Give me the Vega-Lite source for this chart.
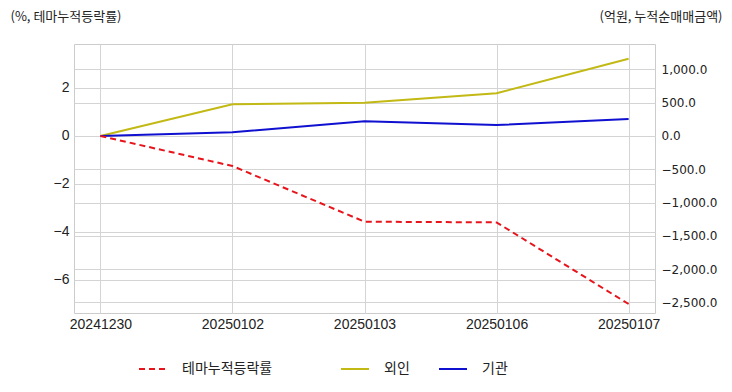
{
  "$schema": "https://vega.github.io/schema/vega-lite/v6.json",
  "width": 581,
  "height": 269,
  "autosize": {"type": "none"},
  "padding": {"left": 74, "top": 44, "right": 77, "bottom": 79},
  "background": "white",
  "config": {
    "view": {"stroke": "#cccccc", "strokeWidth": 1},
    "axis": {"gridColor": "#d4d4d4", "gridWidth": 1, "domain": false, "ticks": false, "labelColor": "#222222", "labelFontSize": 13, "labelFont": "Liberation Sans"},
    "legend": {"orient": "none", "direction": "horizontal", "symbolType": "stroke", "symbolSize": 784, "symbolStrokeWidth": 2, "labelFontSize": 14, "labelFont": "Noto Sans CJK KR", "labelColor": "#222222", "labelOffset": 14, "columnPadding": 25, "padding": 0, "title": null}
  },
  "data": {
    "values": [
      {"date": "20241230", "series": "테마누적등락률", "value": 0},
      {"date": "20250102", "series": "테마누적등락률", "value": -1.25},
      {"date": "20250103", "series": "테마누적등락률", "value": -3.57},
      {"date": "20250106", "series": "테마누적등락률", "value": -3.6},
      {"date": "20250107", "series": "테마누적등락률", "value": -7.0},
      {"date": "20241230", "series": "외인", "value": 0},
      {"date": "20250102", "series": "외인", "value": 476},
      {"date": "20250103", "series": "외인", "value": 500},
      {"date": "20250106", "series": "외인", "value": 641},
      {"date": "20250107", "series": "외인", "value": 1161},
      {"date": "20241230", "series": "기관", "value": 0},
      {"date": "20250102", "series": "기관", "value": 56},
      {"date": "20250103", "series": "기관", "value": 221},
      {"date": "20250106", "series": "기관", "value": 165},
      {"date": "20250107", "series": "기관", "value": 255}
    ]
  },
  "encoding": {
    "x": {"field": "date", "type": "ordinal", "scale": {"type": "point", "padding": 0.2}, "axis": {"title": null, "labelAngle": 0, "labelPadding": 4, "labelFontSize": 14, "grid": true}}
  },
  "layer": [
    {
      "transform": [{"filter": "datum.series !== '테마누적등락률'"}],
      "mark": {"type": "line", "strokeWidth": 2},
      "encoding": {
        "y": {"field": "value", "type": "quantitative", "scale": {"domain": [-2659, 1382], "nice": false, "zero": false},
          "axis": {"orient": "right", "values": [-2500, -2000, -1500, -1000, -500, 0, 500, 1000], "format": ",.1f", "labelFont": "DejaVu Sans", "labelFontSize": 12, "labelPadding": 6, "grid": true,
            "title": "(억원, 누적순매매금액)", "titleAngle": 0, "titleX": 67, "titleY": -28, "titleAlign": "right", "titleBaseline": "middle", "titleFont": "Noto Sans CJK KR", "titleFontSize": 13, "titleFontWeight": "normal", "titleColor": "#222222"}},
        "color": {"field": "series", "type": "nominal", "scale": {"domain": ["외인", "기관"], "range": ["#c2b914", "#1010d0"]}, "legend": {"legendX": 266, "legendY": 310}}
      }
    },
    {
      "transform": [{"filter": "datum.series === '테마누적등락률'"}],
      "mark": {"type": "line", "strokeWidth": 2, "strokeDash": [6, 4]},
      "encoding": {
        "y": {"field": "value", "type": "quantitative", "scale": {"domain": [-7.375, 3.833], "nice": false, "zero": false},
          "axis": {"orient": "left", "values": [-6, -4, -2, 0, 2], "labelPadding": 5, "labelFontSize": 14, "grid": true,
            "title": "(%, 테마누적등락률)", "titleAngle": 0, "titleX": -64, "titleY": -28, "titleAlign": "left", "titleBaseline": "middle", "titleFont": "Noto Sans CJK KR", "titleFontSize": 13, "titleFontWeight": "normal", "titleColor": "#222222"}},
        "color": {"field": "series", "type": "nominal", "scale": {"domain": ["테마누적등락률"], "range": ["#e8141c"]}, "legend": {"legendX": 64, "legendY": 310, "symbolDash": [6, 4]}}
      }
    }
  ],
  "resolve": {"scale": {"y": "independent", "color": "independent"}}
}
